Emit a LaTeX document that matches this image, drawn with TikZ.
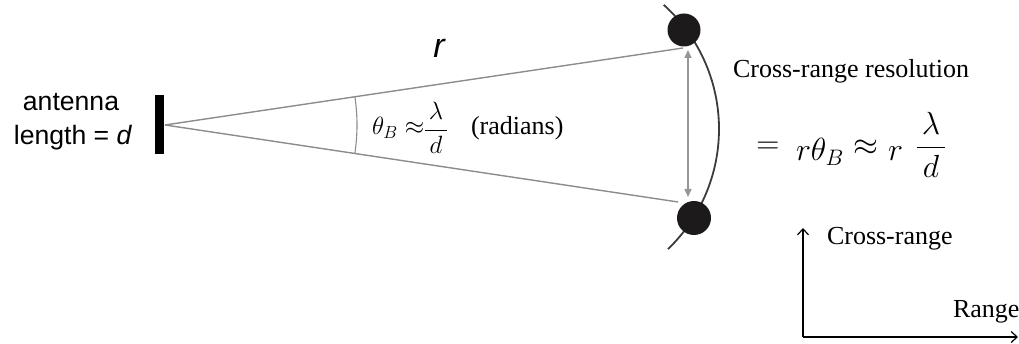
\RequirePackage{fix-cm}
\documentclass[tikz,border=0pt]{standalone}
\usepackage{amsmath}
\usepackage{fontspec}
\setmainfont{Liberation Serif}
\newfontfamily\arial{Liberation Sans}
\usetikzlibrary{arrows.meta}
\definecolor{beamgray}{RGB}{140,140,140}
\definecolor{arcgray}{RGB}{60,60,60}
\definecolor{dotblack}{RGB}{28,26,26}
\definecolor{dimgray}{RGB}{150,150,150}
\tikzset{
  txt/.style={inner sep=0pt, outer sep=0pt},
  sanslbl/.style={txt, font=\arial\fontsize{26.6}{32}\selectfont},
  seriflbl/.style={txt, font=\fontsize{26}{31}\selectfont},
  smallmath/.style={txt, font=\fontsize{25}{30}\selectfont},
  bigmath/.style={txt, font=\fontsize{32}{38}\selectfont},
  beam/.style={draw=beamgray, line width=1.4pt},
  target/.style={circle, fill=dotblack, inner sep=0pt, minimum size=#1},
  axis/.style={draw=black, line width=1.2pt, -{Straight Barb[length=6pt,width=11pt]}},
}
\begin{document}
\begin{tikzpicture}[x=1pt,y=1pt]
\useasboundingbox (0,0) rectangle (1019,344);
% antenna
\node[fill=black, inner sep=0pt, minimum width=9pt, minimum height=59pt] (bar) at (159.5,219.5) {};
\coordinate (apex) at (165,219);
\coordinate (uend) at (683,296);
\coordinate (lend) at (678,142);
\draw[beam] (apex) -- (uend);
\draw[beam] (apex) -- (lend);
% angle arc
\draw[draw=beamgray, line width=1.1pt] (apex) ++(-8.5:192pt) arc[start angle=-8.5, end angle=8.5, radius=192pt];
% resolution arc
\coordinate (rc) at (552,215);
\draw[draw=arcgray, line width=1.8pt] (rc) ++(-46:167pt) arc[start angle=-46, end angle=48, radius=167pt];
% double arrow
\coordinate (dtop) at (688,294);
\coordinate (dbot) at (688,147);
\draw[draw=dimgray, line width=1.5pt, {Triangle[length=8pt,width=7pt]}-{Triangle[length=8pt,width=7pt]}] (dtop) -- (dbot);
% targets
\node[target=33pt] (t1) at (684,314) {};
\node[target=34pt] (t2) at (694,126) {};
% labels
\node[sanslbl, anchor=base] (ant1) at (71,233) {antenna};
\node[sanslbl, anchor=base] (ant2) at (73,199) {length = \textit{d}};
\node[txt, font=\arial\itshape\fontsize{34}{40}\selectfont, anchor=base] (rlbl) at (439,286) {r};
\node[smallmath, anchor=base west] (thb) at (372,209) {$\theta_B \approx$};
\node[smallmath] (fr1) at (436,216) {$\dfrac{\,\lambda\,}{d}$};
\node[seriflbl, anchor=base west] (rad) at (471,209) {(radians)};
\node[seriflbl, anchor=base west] (crr) at (733,266) {Cross-range resolution};
\node[bigmath] (eqs) at (768,196) {$=$};
\node[bigmath, anchor=base west] (rth) at (796,183) {$r\theta_B$};
\node[bigmath] (apx) at (866,196) {$\approx$};
\node[bigmath, anchor=base west] (r2) at (888,183) {$r$};
\node[bigmath] (fr2) at (931,199) {$\dfrac{\,\lambda\,}{d}$};
% axes
\coordinate (o) at (803,7);
\coordinate (ytip) at (803,116);
\coordinate (xtip) at (1018,7);
\draw[axis] (o) -- (ytip);
\draw[axis] (o) -- (xtip);
\node[seriflbl, anchor=base west] (cr) at (827,99) {Cross-range};
\node[seriflbl, anchor=base west] (rg) at (953,26) {Range};
\end{tikzpicture}
\end{document}
